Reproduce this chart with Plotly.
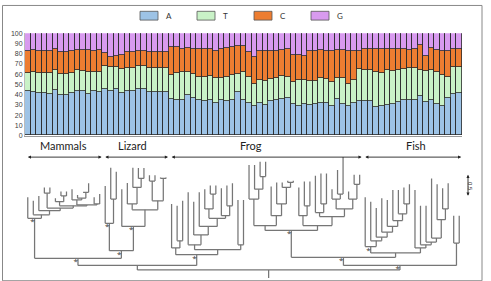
import plotly.graph_objects as go

# ---------------- data ----------------
nucleotides = ["A", "T", "C", "G"]
colors = {"A": "#9DC3E6", "T": "#C9F2C7", "C": "#ED7D31", "G": "#D89AEF"}

pct_A = [43, 42, 41, 41, 40, 44, 39, 39, 41, 43, 43, 40, 43, 42, 45, 43, 45, 41, 43, 43,
         45, 45, 42, 42, 42, 42, 36, 35, 35, 39, 37, 35, 34, 35, 32, 35, 34, 35, 42, 35,
         32, 29, 32, 30, 34, 35, 36, 37, 31, 29, 31, 30, 31, 32, 32, 29, 36, 31, 29, 32,
         34, 34, 34, 28, 29, 30, 31, 33, 35, 35, 35, 38, 33, 35, 31, 29, 37, 40, 41]
pct_T = [18, 20, 20, 20, 21, 20, 21, 21, 20, 21, 20, 22, 19, 20, 23, 24, 22, 24, 23, 23,
         23, 23, 24, 24, 24, 24, 23, 26, 27, 23, 23, 22, 23, 23, 24, 21, 23, 24, 18, 27,
         25, 21, 22, 23, 21, 21, 22, 20, 21, 25, 23, 23, 22, 24, 23, 23, 20, 25, 21, 22,
         31, 30, 30, 34, 32, 34, 32, 31, 30, 31, 31, 26, 30, 29, 31, 30, 20, 27, 26]
pct_C = [21, 21, 21, 21, 21, 20, 21, 21, 21, 19, 20, 21, 20, 21, 12, 10, 11, 14, 15, 15,
         14, 14, 15, 15, 15, 15, 27, 25, 22, 23, 24, 27, 27, 26, 26, 28, 28, 27, 27, 25,
         24, 27, 28, 29, 27, 26, 25, 27, 27, 25, 24, 29, 29, 27, 27, 30, 27, 27, 32, 28,
         17, 20, 20, 22, 23, 20, 21, 20, 19, 17, 18, 24, 15, 21, 21, 23, 25, 17, 17]
pct_G = [18, 17, 18, 18, 18, 16, 19, 19, 18, 17, 17, 17, 18, 17, 20, 23, 22, 21, 19, 19,
         18, 18, 19, 19, 19, 19, 14, 14, 16, 15, 16, 16, 16, 16, 18, 16, 15, 14, 13, 13,
         19, 23, 18, 18, 18, 18, 17, 16, 21, 21, 22, 18, 18, 17, 18, 18, 17, 17, 18, 18,
         18, 16, 16, 16, 16, 16, 16, 16, 16, 17, 16, 12, 22, 15, 17, 18, 18, 16, 16]

groups = ["Mammals", "Lizard", "Frog", "Fish"]
group_sizes = [14, 12, 35, 18]
y_ticks = list(range(0, 101, 10))
scale_bar_value = 0.5


# phylogeny: N(node depth from root, children...); leaves are tip depths
def N(h, *kids, star=False):
    return {"h": h, "kids": list(kids), "star": star}


mammals = N(1.15, 1.62,
            N(1.23, 1.54,
              N(1.32, 1.65,
                N(1.38,
                  N(1.71, 1.84, 1.84),
                  N(1.43,
                    N(1.52, 1.60, N(1.65, 1.75, 1.75)),
                    N(1.45,
                      N(1.56, 1.80, N(1.60, 1.67, N(1.73, 1.73, 1.93))),
                      N(1.47, 1.62, 1.69)))))),
            star=True)
lizard = N(0.43,
           N(1.04, 1.87, N(1.58, 2.28, 2.19), star=True),
           N(0.97, 1.80,
             N(1.34,
               N(1.47, 1.94, N(1.84, 2.28, N(2.04, 2.27, 2.27))),
               N(1.54, N(1.98, 2.11, 2.11), N(2.04, 2.06, 2.06))),
             star=True),
           star=True)
frog1 = N(0.34,
          N(0.49, 1.47, N(0.65, 1.43, 1.54)),
          N(0.45,
            N(0.56, 1.73,
              N(0.78, 1.52,
                N(0.97, 1.73,
                  N(1.15,
                    N(1.36, 1.80, N(1.69, 1.88, 1.88)),
                    N(1.21, 1.82, N(1.43, 1.88, 1.93)))))),
            N(0.56, 1.56, 1.56)),
          star=True)
frog2 = N(0.88,
          N(0.99,
            N(1.58, 2.34, N(1.80, 2.34, N(2.08, 2.41, 2.41))),
            N(1.21, 1.86, N(1.47, 1.95, N(1.84, 1.95, N(1.95, 1.99, 1.99))))),
          N(0.99,
            N(1.21, 1.84, N(1.43, 1.97, 1.97)),
            N(1.19,
              N(1.28, 2.10, N(1.47, 2.15, 2.15)),
              N(1.36,
                N(1.58, 1.80, N(1.69, 2.23, 2.52)),
                N(1.58, 1.75, N(1.91, 2.12, 2.12))))),
          star=True)
fish1 = N(0.38,
          N(0.52, 1.62,
            N(0.65, 1.52,
              N(0.73, 1.38,
                N(0.84, 1.60,
                  N(0.97, 1.56,
                    N(1.10, 1.78,
                      N(1.25, 1.78,
                        N(1.47, 1.84, 1.91))))))),
            star=True),
          N(0.49, 1.78,
            N(0.56, 1.43,
              N(0.62, 1.43,
                N(0.71, 2.04,
                  N(1.12, 1.91,
                    N(1.36, 1.82, 1.93)))))))
fish_out = N(0.60, 1.21, 1.21)

tree = N(0.0,
         N(0.10, N(0.26, mammals, lizard, star=True), frog1),
         N(0.10, N(0.28, frog2, fish1, star=True), fish_out, star=True))
root_stem_end = -0.18

# ---------------- tree layout ----------------
lx, ly = [], []
sx, sy = [], []
counter = [0]


def layout(node, parent_h):
    if not isinstance(node, dict):
        x = counter[0]
        counter[0] += 1
        lx.extend([x, x, None])
        ly.extend([parent_h, node, None])
        return x
    xs = [layout(k, node["h"]) for k in node["kids"]]
    x = (min(xs) + max(xs)) / 2
    lx.extend([min(xs), max(xs), None])
    ly.extend([node["h"], node["h"], None])
    lx.extend([x, x, None])
    ly.extend([parent_h, node["h"], None])
    if node["star"]:
        sx.append(x)
        sy.append(node["h"])
    return x


layout(tree, root_stem_end)

# ---------------- figure ----------------
W, H = 491, 281
fig = go.Figure()
xs = list(range(len(pct_A)))
series = {"A": pct_A, "T": pct_T, "C": pct_C, "G": pct_G}
for nt in nucleotides:
    fig.add_trace(go.Bar(
        x=xs, y=series[nt], name=nt, marker_color=colors[nt],
        marker_line=dict(color="#2a2a2a", width=0.8), showlegend=False,
        xaxis="x", yaxis="y"))

fig.add_trace(go.Scatter(x=lx, y=ly, mode="lines", line=dict(color="#767676", width=1.25),
                         xaxis="x2", yaxis="y2", showlegend=False, hoverinfo="skip"))
fig.add_trace(go.Scatter(x=sx, y=sy, mode="text", text=["*"] * len(sx),
                         textposition="bottom left", textfont=dict(size=8, color="#333"),
                         xaxis="x2", yaxis="y2", showlegend=False, hoverinfo="skip"))

x_dom = [25 / W, 462 / W]
n = len(pct_A)
fig.update_layout(
    width=W, height=H, margin=dict(l=0, r=0, t=0, b=0),
    paper_bgcolor="white", plot_bgcolor="white",
    barmode="stack", bargap=0,
    xaxis=dict(domain=x_dom, range=[-0.5, n - 0.5], showticklabels=False, ticks="",
               showgrid=False, zeroline=False, showline=True, linecolor="#999", linewidth=1,
               anchor="y"),
    yaxis=dict(domain=[(H - 135) / H, (H - 30) / H], range=[0, 100], tickvals=y_ticks,
               tickfont=dict(family="Liberation Sans", size=7, color="#404040"),
               showgrid=False, zeroline=False, showline=True, linecolor="#bbb",
               ticks="", anchor="x"),
    xaxis2=dict(domain=x_dom, matches="x", visible=False, anchor="y2"),
    yaxis2=dict(domain=[0, (H - 140) / H], range=[root_stem_end, 2.885], visible=False,
                anchor="x2"),
)

shapes = []
annotations = []
# legend (manual)
for i, nt in enumerate(nucleotides):
    bx = 140 + i * 57
    shapes.append(dict(type="rect", xref="paper", yref="paper",
                       x0=bx / W, x1=(bx + 18) / W, y0=1 - 16.5 / H, y1=1 - 7.5 / H,
                       fillcolor=colors[nt], line=dict(color="#555", width=0.8)))
    annotations.append(dict(xref="paper", yref="paper", x=(bx + 24) / W, y=1 - 12 / H,
                            text=nt, showarrow=False, xanchor="left", yanchor="middle",
                            font=dict(family="Lato", size=8, color="#333")))

# group labels and arrows
label_xshift = {"Mammals": 0, "Lizard": -3, "Frog": -15, "Fish": 4}
start = 0
for g, size in zip(groups, group_sizes):
    s, e = start - 0.5, start + size - 0.5
    annotations.append(dict(xref="x", yref="paper", x=(s + e) / 2, y=(H - 145) / H,
                            text=g, showarrow=False, yanchor="middle",
                            xshift=label_xshift[g],
                            font=dict(family="Lato", size=11, color="#222")))
    annotations.append(dict(xref="x2", yref="y2", x=e - 0.15, y=2.515,
                            axref="x2", ayref="y2", ax=s + 0.25, ay=2.515, text="",
                            showarrow=True, arrowside="end+start", arrowhead=2,
                            startarrowhead=2, arrowsize=0.7, startarrowsize=0.7,
                            arrowwidth=0.9, arrowcolor="#222"))
    start += size

# scale bar
annotations.append(dict(xref="paper", yref="y2", x=468 / W, y=2.12,
                        axref="pixel", ayref="y2", ax=0, ay=2.12 - scale_bar_value, text="",
                        showarrow=True, arrowside="end+start", arrowhead=2,
                        startarrowhead=2, arrowsize=0.7, startarrowsize=0.7,
                        arrowwidth=0.9, arrowcolor="#222"))
annotations.append(dict(xref="paper", yref="y2", x=475 / W, y=2.12 - scale_bar_value / 2,
                        text=str(scale_bar_value), textangle=90, showarrow=False,
                        font=dict(family="Liberation Sans", size=6, color="#333")))

# outer frame
shapes.append(dict(type="rect", xref="paper", yref="paper", x0=2.5 / W, x1=482 / W,
                   y0=-0.01, y1=1 - 1.5 / H, line=dict(color="#888", width=1)))

fig.update_layout(shapes=shapes, annotations=annotations)
fig.write_html("out.html", config={"displayModeBar": False})
